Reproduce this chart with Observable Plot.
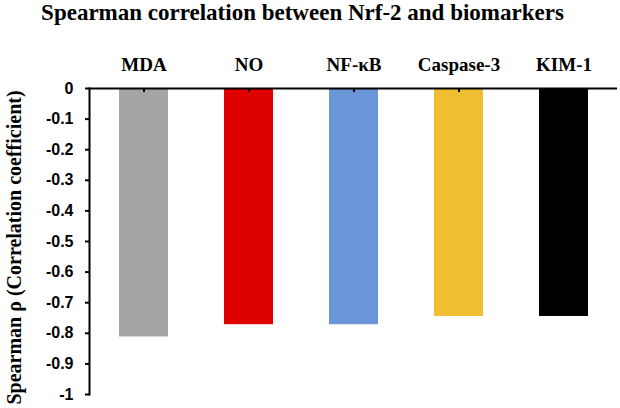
<!DOCTYPE html>
<html>
<head>
<meta charset="utf-8">
<script src="https://cdn.jsdelivr.net/npm/d3@7"></script>
<script src="https://cdn.jsdelivr.net/npm/@observablehq/plot@0.6"></script>
<style>
  html, body { margin: 0; padding: 0; background: #fff; }
  #wrap { position: relative; width: 620px; height: 408px; }
  #title {
    position: absolute; left: 0; top: 0px; width: 605px; text-align: center;
    font-family: "Liberation Serif", "Times New Roman", serif; font-weight: bold;
    font-size: 23px; line-height: 25px; color: #000; white-space: nowrap;
  }
</style>
</head>
<body>
<div id="wrap">
  <div id="title">Spearman correlation between Nrf-2 and biomarkers</div>
  <div id="chart"></div>
</div>
<script>
const categories = ["MDA", "NO", "NF-κB", "Caspase-3", "KIM-1"];
const rhoValues = [-0.812, -0.772, -0.772, -0.745, -0.745];
const barColors = ["#a5a5a5", "#df0000", "#6a96d8", "#efbf31", "#000000"];
const yTicks = [0, -0.1, -0.2, -0.3, -0.4, -0.5, -0.6, -0.7, -0.8, -0.9, -1];
const yLabel = "Spearman ρ (Correlation coefficient)";

const data = categories.map((c, i) => ({category: c, rho: rhoValues[i], color: barColors[i]}));
const fmt = d => d === 0 ? "0" : String(+d.toFixed(1));

const chart = Plot.plot({
  width: 620,
  height: 408,
  marginTop: 88,
  marginBottom: 14,
  marginLeft: 89,
  marginRight: 3,
  style: {background: "#fff", overflow: "visible"},
  x: {domain: categories, paddingInner: 0.536, paddingOuter: 0.268, axis: null},
  y: {domain: [-1, 0], axis: null},
  marks: [
    Plot.barY(data, {x: "category", y1: 0, y2: "rho", fill: "color"}),
    Plot.ruleY([0], {stroke: "#000", strokeWidth: 2}),
    Plot.ruleX(categories, {x: d => d, y1: 0, y2: 0, insetBottom: -4, stroke: "#000", strokeWidth: 2}),
    Plot.frame({anchor: "left", stroke: "#000", strokeWidth: 2}),
    Plot.axisX({anchor: "top", tickSize: 0, tickPadding: 18, label: null,
      fontFamily: "Liberation Serif", fontWeight: "bold", fontSize: 19, fill: "#000"}),
    Plot.axisY(yTicks, {anchor: "left", tickSize: 4, tickPadding: 12, tickFormat: fmt, label: null,
      strokeWidth: 2, stroke: "#000",
      fontFamily: "Liberation Sans", fontWeight: "bold", fontSize: 16, fill: "#000"}),
    Plot.text([yLabel], {frameAnchor: "left", rotate: -90, dx: -75, dy: 6,
      textAnchor: "middle", lineAnchor: "middle",
      fontFamily: "Liberation Serif", fontWeight: "bold", fontSize: 20, fill: "#000"})
  ]
});
document.getElementById("chart").appendChild(chart);
</script>
</body>
</html>
